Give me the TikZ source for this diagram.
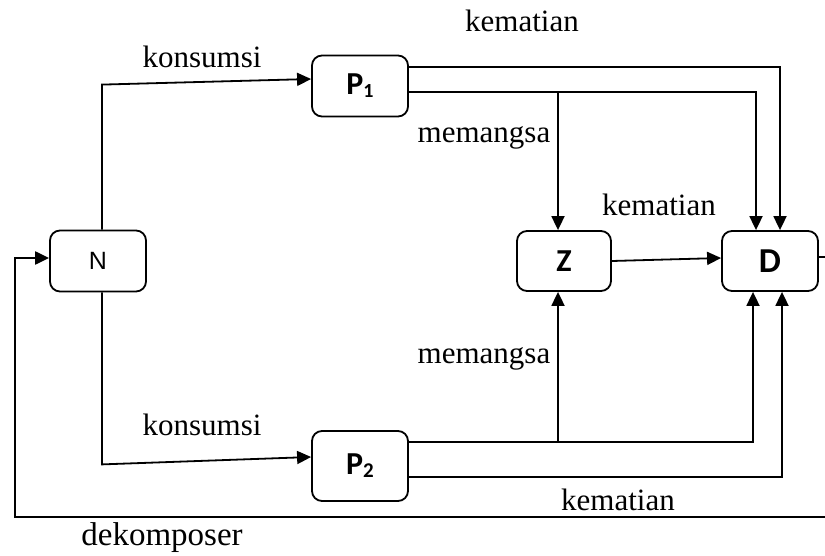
\documentclass[tikz,border=0pt]{standalone}
\usepackage{fontspec}
\setmainfont{Liberation Serif}
\newfontfamily\carlitofont{Carlito}
\newfontfamily\arialfont{Liberation Sans}
\usetikzlibrary{arrows.meta}
\begin{document}
\begin{tikzpicture}[x=1pt,y=-1pt,
  box/.style={draw, line width=1.8pt, rounded corners=10pt, minimum width=96pt, minimum height=61pt, inner sep=0pt},
  conn/.style={line width=1.8pt},
  arr/.style={conn, -{Triangle[length=14pt,width=13pt]}},
  lbl/.style={anchor=base, inner sep=0pt, font=\fontsize{31}{36}\selectfont},
  blbl/.style={font=\carlitofont\bfseries\fontsize{32}{36}\selectfont}
]
\useasboundingbox (0,0) rectangle (825,556);

% boxes
\node[box, font=\arialfont\fontsize{25}{28}\selectfont] (N) at (98,261) {\raisebox{-3pt}{N}};
\node[box, blbl] (P1) at (360,86) {\raisebox{-7pt}{P\raisebox{-3pt}{\fontsize{20}{20}\selectfont 1}}};
\node[box, blbl, minimum height=70pt] (P2) at (360,466) {\raisebox{-4pt}{P\raisebox{-3pt}{\fontsize{21}{21}\selectfont 2}}};
\node[box, blbl, minimum width=94pt, minimum height=60pt] (Z) at (564,261) {\raisebox{-8pt}{Z}};
\node[box, blbl, minimum height=60pt] (D) at (770,261) {\raisebox{-7pt}{\fontsize{35}{38}\selectfont D}};

% junctions and free ends
\coordinate (j1) at (558,92);
\coordinate (j2) at (558,442);
\coordinate (r1) at (825,257);
\coordinate (r2) at (825,517);
\coordinate (c1) at (15,517);
\coordinate (c2) at (15,258);

% connectors
\draw[arr] ([xshift=4pt]N.north) -- ++(0,-145) -- ([yshift=7pt]P1.west);
\draw[arr] ([xshift=4pt]N.south) -- ++(0,172) -- ([yshift=9pt]P2.west);
\draw[arr] ([yshift=19pt]P1.east) -| ([xshift=10pt]D.north);
\draw[arr] ([yshift=-6pt]P1.east) -| ([xshift=-14pt]D.north);
\draw[arr] (j1) -- ([xshift=-6pt]Z.north);
\draw[arr] ([yshift=24pt]P2.east) -| ([xshift=-17pt]D.south);
\draw[arr] ([yshift=-11pt]P2.east) -| ([xshift=12pt]D.south);
\draw[arr] (j2) -- ([xshift=-6pt]Z.south);
\draw[arr] (Z.east) -- ([yshift=3pt]D.west);
\draw[conn] ([yshift=4pt]D.east) -- (r1);
\draw[arr, line width=2.2pt] (r2) -- (c1) -- (c2) -- ([yshift=3pt]N.west);

% labels
\node[lbl] (t1) at (522,32) {kematian};
\node[lbl] (t2) at (202,68) {konsumsi};
\node[lbl] (t3) at (484,143) {memangsa};
\node[lbl] (t4) at (659,216) {kematian};
\node[lbl] (t5) at (484,363) {memangsa};
\node[lbl] (t6) at (202,435) {konsumsi};
\node[lbl] (t7) at (618,510) {kematian};
\node[lbl, font=\fontsize{33}{36}\selectfont] (t8) at (162,545) {dekomposer};
\end{tikzpicture}
\end{document}
